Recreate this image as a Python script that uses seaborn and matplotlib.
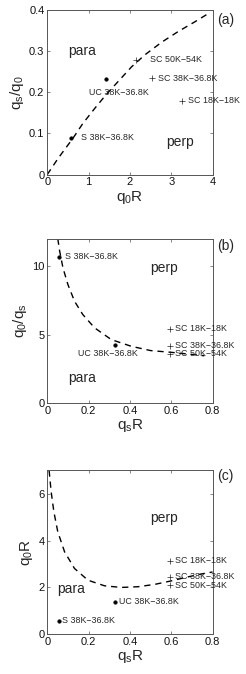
import matplotlib
matplotlib.use("Agg")
import matplotlib.pyplot as plt
import seaborn as sns
import pandas as pd

# ---- data ----
# panel (a): qs/q0 vs q0R
a_curve_x = [0.0, 0.26, 0.62, 0.86, 1.15, 1.43, 2.04, 2.36, 2.77, 3.17, 3.58, 3.92]
a_curve_y = [0.0, 0.039, 0.088, 0.124, 0.161, 0.195, 0.262, 0.291, 0.322, 0.348, 0.372, 0.393]
# panel (b): q0/qs vs qsR
b_curve_x = [0.051, 0.060, 0.076, 0.10, 0.132, 0.172, 0.229, 0.31, 0.407, 0.50, 0.60, 0.70, 0.76]
b_curve_y = [12.0, 11.1, 9.87, 8.65, 7.43, 6.46, 5.49, 4.63, 4.14, 3.83, 3.70, 3.55, 3.45]
# panel (c): q0R vs qsR
c_curve_x = [0.009, 0.019, 0.032, 0.051, 0.084, 0.132, 0.197, 0.277, 0.358, 0.439, 0.52, 0.60, 0.68, 0.76, 0.80]
c_curve_y = [7.0, 6.09, 5.24, 4.38, 3.52, 2.81, 2.31, 2.07, 2.0, 2.03, 2.13, 2.28, 2.45, 2.60, 2.66]

dot_labels = ["UC 38K\u221236.8K", "S 38K\u221236.8K"]
plus_labels = ["SC 50K\u221254K", "SC 38K\u221236.8K", "SC 18K\u221218K"]

a_dot_x = [1.42, 0.58]
a_dot_y = [0.232, 0.089]
a_plus_x = [2.15, 2.54, 3.25]
a_plus_y = [0.279, 0.234, 0.179]

b_dot_x = [0.33, 0.055]
b_dot_y = [4.27, 10.68]
b_plus_x = [0.592, 0.592, 0.592]
b_plus_y = [3.58, 4.19, 5.41]

c_dot_x = [0.33, 0.055]
c_dot_y = [1.38, 0.57]
c_plus_x = [0.592, 0.592, 0.592]
c_plus_y = [2.10, 2.45, 3.14]

sns.set_theme(style="ticks")
plt.rcParams["font.family"] = ["Liberation Sans", "DejaVu Sans"]
plt.rcParams["mathtext.fontset"] = "custom"
plt.rcParams["mathtext.rm"] = "Liberation Sans"
plt.rcParams["mathtext.it"] = "Liberation Sans"

fig = plt.figure(figsize=(2.46, 6.74), dpi=100)
L, W = 0.192, 0.672
axa = fig.add_axes([L, 0.741, W, 0.244])
axb = fig.add_axes([L, 0.402, W, 0.244])
axc = fig.add_axes([L, 0.059, W, 0.243])

dash = (0, (4.5, 3.5))
lab_fs = 6.4


def draw(ax, cx, cy, dx, dy, px, py):
    sns.lineplot(x=cx, y=cy, ax=ax, sort=False, color="black", lw=1.0,
                 linestyle=dash, estimator=None)
    sns.scatterplot(x=dx, y=dy, ax=ax, color="black", s=7, edgecolor="black",
                    linewidth=0.3, zorder=3)
    sns.scatterplot(x=px, y=py, ax=ax, color="#222222", marker="+", s=14,
                    linewidth=0.5, zorder=3)


def style(ax, xl, yl, xt, yt, xtl, ytl, xlabel, ylabel, tag, tagy):
    ax.set_xlim(*xl)
    ax.set_ylim(*yl)
    ax.set_xticks(xt)
    ax.set_xticklabels(xtl)
    ax.set_yticks(yt)
    ax.set_yticklabels(ytl)
    ax.tick_params(direction="in", length=2.5, width=0.5, labelsize=8,
                   top=True, right=True, pad=2, colors="#555555",
                   labelcolor="#111111")
    for s in ax.spines.values():
        s.set_visible(True)
        s.set_linewidth(0.7)
        s.set_color("#555555")
    ax.set_xlabel(xlabel, fontsize=11, labelpad=1)
    ax.set_ylabel(ylabel, fontsize=11, labelpad=2)
    ax.text(1.03, tagy, tag, transform=ax.transAxes, fontsize=10,
            ha="left", va="center")


# panel (a)
draw(axa, a_curve_x, a_curve_y, a_dot_x, a_dot_y, a_plus_x, a_plus_y)
axa.text(0.5, 0.3, "para", fontsize=10, va="center")
axa.text(2.88, 0.08, "perp", fontsize=10, va="center")
axa.text(1.0, 0.2, dot_labels[0], fontsize=lab_fs, va="center")
axa.text(0.81, 0.089, dot_labels[1], fontsize=lab_fs, va="center")
axa.text(2.48, 0.279, plus_labels[0], fontsize=lab_fs, va="center", clip_on=False)
axa.text(2.67, 0.234, plus_labels[1], fontsize=lab_fs, va="center", clip_on=False)
axa.text(3.40, 0.179, plus_labels[2], fontsize=lab_fs, va="center", clip_on=False)
style(axa, (0, 4), (0, 0.4), [0, 1, 2, 3, 4], [0, 0.1, 0.2, 0.3, 0.4],
      ["0", "1", "2", "3", "4"], ["0", "0.1", "0.2", "0.3", "0.4"],
      r"$\mathregular{q_0R}$", r"$\mathregular{q_s/q_0}$", "(a)", 0.94)

# panel (b)
draw(axb, b_curve_x, b_curve_y, b_dot_x, b_dot_y, b_plus_x, b_plus_y)
axb.text(0.50, 9.87, "perp", fontsize=10, va="center")
axb.text(0.10, 1.83, "para", fontsize=10, va="center")
axb.text(0.148, 3.58, dot_labels[0], fontsize=lab_fs, va="center")
axb.text(0.084, 10.68, dot_labels[1], fontsize=lab_fs, va="center")
axb.text(0.617, 3.58, plus_labels[0], fontsize=lab_fs, va="center", clip_on=False)
axb.text(0.617, 4.19, plus_labels[1], fontsize=lab_fs, va="center", clip_on=False)
axb.text(0.617, 5.41, plus_labels[2], fontsize=lab_fs, va="center", clip_on=False)
style(axb, (0, 0.8), (0, 12), [0, 0.2, 0.4, 0.6, 0.8], [0, 5, 10],
      ["0", "0.2", "0.4", "0.6", "0.8"], ["0", "5", "10"],
      r"$\mathregular{q_sR}$", r"$\mathregular{q_0/q_s}$", "(b)", 0.955)

# panel (c)
draw(axc, c_curve_x, c_curve_y, c_dot_x, c_dot_y, c_plus_x, c_plus_y)
axc.text(0.50, 4.95, "perp", fontsize=10, va="center")
axc.text(0.05, 1.93, "para", fontsize=10, va="center")
axc.text(0.345, 1.38, dot_labels[0], fontsize=lab_fs, va="center")
axc.text(0.072, 0.57, dot_labels[1], fontsize=lab_fs, va="center")
axc.text(0.617, 2.10, plus_labels[0], fontsize=lab_fs, va="center", clip_on=False)
axc.text(0.617, 2.45, plus_labels[1], fontsize=lab_fs, va="center", clip_on=False)
axc.text(0.617, 3.14, plus_labels[2], fontsize=lab_fs, va="center", clip_on=False)
style(axc, (0, 0.8), (0, 7), [0, 0.2, 0.4, 0.6, 0.8], [0, 2, 4, 6],
      ["0", "0.2", "0.4", "0.6", "0.8"], ["0", "2", "4", "6"],
      r"$\mathregular{q_sR}$", r"$\mathregular{q_0R}$", "(c)", 0.965)

fig.savefig("out.png", dpi=100)
